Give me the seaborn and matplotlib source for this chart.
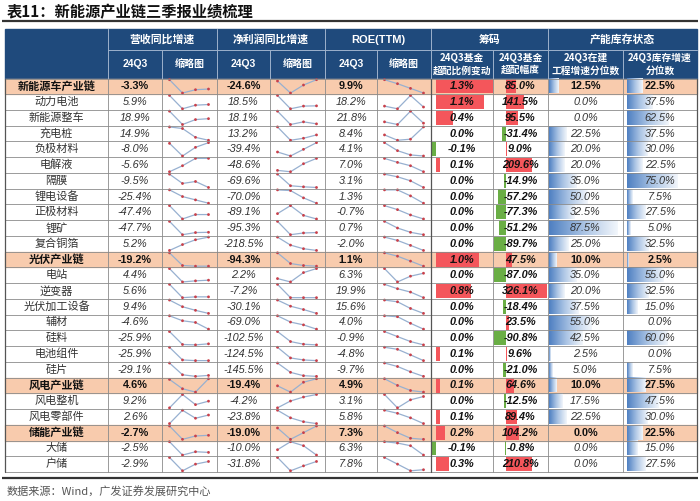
import numpy as np
import pandas as pd
import matplotlib
matplotlib.use('Agg')
import matplotlib.pyplot as plt
from matplotlib.patches import Rectangle
from matplotlib.colors import LinearSegmentedColormap
import seaborn as sns

sns.set_theme(style='white')
plt.rcParams['font.family'] = ['Noto Sans CJK SC', 'DejaVu Sans']

# ---------------- data ----------------
names = ['新能源车产业链', '动力电池', '新能源整车', '充电桩', '负极材料', '电解液', '隔膜', '锂电设备',
         '正极材料', '锂矿', '复合铜箔', '光伏产业链', '电站', '逆变器', '光伏加工设备', '辅材', '硅料',
         '电池组件', '硅片', '风电产业链', '风电整机', '风电零部件', '储能产业链', '大储', '户储']
is_group = [1, 0, 0, 0, 0, 0, 0, 0, 0, 0, 0, 1, 0, 0, 0, 0, 0, 0, 0, 1, 0, 0, 1, 0, 0]
rev = [-3.3, 5.9, 18.9, 14.9, -8.0, -5.6, -9.5, -25.4, -47.4, -47.7, 5.2, -19.2, 4.4, 5.6, 9.4, -4.6,
       -25.9, -25.9, -29.1, 4.6, 9.2, 2.6, -2.7, -2.5, -2.9]
net = [-24.6, 18.5, 18.1, 13.2, -39.4, -48.6, -69.6, -70.0, -89.1, -95.3, -218.5, -94.3, 2.2, -7.2,
       -30.1, -69.0, -102.5, -124.5, -145.5, -19.4, -4.2, -23.8, -19.0, -10.0, -31.8]
roe = [9.9, 18.2, 21.8, 8.4, 4.1, 7.0, 3.1, 1.3, -0.7, 0.7, -2.0, 1.1, 6.3, 19.9, 15.6, 4.0, -0.9,
       -4.8, -9.7, 4.9, 3.1, 5.8, 7.3, 6.3, 7.8]
fund_chg = [1.3, 1.1, 0.4, 0.0, -0.1, 0.1, 0.0, 0.0, 0.0, 0.0, 0.0, 1.0, 0.0, 0.8, 0.0, 0.0, 0.0,
            0.1, 0.0, 0.1, 0.0, 0.1, 0.2, -0.1, 0.3]
fund_ow = [85.0, 141.5, 95.5, -31.4, 9.0, 209.6, -14.9, -57.2, -77.3, -51.2, -89.7, 47.5, -87.0, 326.1,
           -18.4, 23.5, -90.8, 9.6, -21.0, 64.6, -12.5, 89.4, 104.2, -0.8, 210.8]
constr = [12.5, 0.0, 0.0, 22.5, 20.0, 20.0, 35.0, 50.0, 32.5, 87.5, 25.0, 10.0, 35.0, 20.0, 37.5, 55.0,
          42.5, 2.5, 5.0, 10.0, 17.5, 22.5, 0.0, 0.0, 0.0]
inv = [22.5, 37.5, 62.5, 37.5, 30.0, 22.5, 75.0, 7.5, 27.5, 5.0, 32.5, 2.5, 55.0, 32.5, 15.0, 0.0,
       60.0, 0.0, 7.5, 27.5, 47.5, 30.0, 22.5, 15.0, 27.5]

# sparkline shapes (relative level 0-100 of four quarters, read from the thumbnails)
spark_rev = [[100, 0, 25, 30], [100, 0, 27, 32], [100, 0, 37, 44], [100, 88, 22, 0], [95, 0, 65, 100],
             [0, 45, 100, 100], [100, 30, 45, 0], [100, 50, 25, 0], [100, 0, 33, 33], [100, 0, 16, 18],
             [0, 44, 80, 100], [100, 5, 0, 0], [100, 0, 8, 13], [100, 0, 6, 6], [100, 50, 23, 0],
             [100, 63, 50, 0], [100, 3, 0, 8], [100, 5, 0, 0], [100, 12, 0, 7], [95, 25, 0, 100],
             [0, 100, 24, 50], [0, 100, 40, 64], [100, 0, 25, 30], [100, 0, 25, 20], [100, 0, 50, 70]]
spark_net = [[90, 0, 60, 100], [100, 0, 20, 22], [100, 0, 20, 5], [100, 0, 15, 40], [30, 0, 50, 100],
             [10, 0, 60, 100], [100, 13, 5, 0], [100, 95, 40, 0], [40, 100, 27, 0], [100, 0, 13, 16],
             [100, 40, 13, 0], [100, 20, 5, 0], [25, 0, 70, 100], [100, 0, 0, 0], [100, 54, 29, 0],
             [100, 53, 32, 0], [100, 25, 5, 0], [100, 20, 5, 0], [100, 30, 5, 0], [47, 0, 74, 100],
             [0, 51, 81, 100], [100, 43, 14, 0], [85, 0, 50, 100], [40, 100, 70, 0], [100, 0, 37, 70]]
spark_roe = [[100, 70, 35, 0], [20, 0, 100, 13], [20, 0, 100, 10], [40, 0, 8, 100], [100, 40, 8, 0],
             [100, 70, 45, 0], [100, 80, 50, 0], [100, 100, 55, 0], [100, 70, 30, 0], [100, 50, 18, 0],
             [100, 75, 38, 0], [100, 75, 38, 0], [100, 0, 43, 65], [100, 67, 42, 0], [100, 87, 37, 0],
             [100, 93, 44, 0], [100, 62, 25, 0], [100, 85, 43, 0], [100, 74, 34, 0], [100, 50, 12, 0],
             [100, 0, 60, 85], [100, 77, 43, 0], [100, 50, 8, 0], [100, 90, 70, 0], [100, 50, 0, 8]]

title = '表11：新能源产业链三季报业绩梳理'
source = '数据来源：Wind，广发证券发展研究中心'
hdr1 = ['营收同比增速', '净利润同比增速', 'ROE(TTM)', '筹码', '产能库存状态']
hdr2 = ['24Q3', '缩略图', '24Q3', '缩略图', '24Q3', '缩略图', '24Q3基金\n超配比例变动', '24Q3基金\n超配幅度',
        '24Q3在建\n工程增速分位数', '24Q3库存增速\n分位数']

# ---------------- layout ----------------
W, H = 700, 501
fig = plt.figure(figsize=(7, 5.01), dpi=100)
ax = fig.add_axes([0, 0, 1, 1])
ax.axis('off')

cols = [5, 108, 162, 217, 270, 325, 377, 431, 493, 548, 623, 697]
hdr_top, hdr_mid, body_top, body_bot = 29, 50, 78.5, 472
n = len(names)
rh = (body_bot - body_top) / n

HDR_BLUE = '#1F4A7C'
PEACH = '#F8CBAD'
RED = '#F4565B'
GREEN = '#6AAE45'
GRID = '#8A8A8A'
NUMF = ['Liberation Sans', 'DejaVu Sans']

# title
ax.text(7, 12, title, fontsize=11, fontweight='bold', va='center', ha='left', color='#111')
ax.plot([2, 698], [21, 21], color='#333333', lw=1.6, solid_capstyle='butt')

# header
ax.add_patch(Rectangle((cols[0], hdr_top), cols[-1] - cols[0], body_top - hdr_top, color=HDR_BLUE, zorder=1))
hl = '#9DB2CC'
for x in [cols[1], cols[3], cols[5], cols[7], cols[9]]:
    ax.plot([x, x], [hdr_top, body_top], color=hl, lw=0.7, zorder=2)
for x in [cols[2], cols[4], cols[6], cols[8], cols[10]]:
    ax.plot([x, x], [hdr_mid, body_top], color=hl, lw=0.7, zorder=2)
ax.plot([cols[1], cols[-1]], [hdr_mid, hdr_mid], color=hl, lw=0.7, zorder=2)
spans = [(1, 3), (3, 5), (5, 7), (7, 9), (9, 11)]
for (a, b), t in zip(spans, hdr1):
    fam = NUMF if t.startswith('ROE') else None
    kw = dict(family=fam) if fam else {}
    ax.text((cols[a] + cols[b]) / 2, (hdr_top + hdr_mid) / 2, t, color='white', fontsize=8 if fam else 7.8,
            fontweight='bold', ha='center', va='center', zorder=3, **kw)
for k, t in enumerate(hdr2):
    xc = (cols[k + 1] + cols[k + 2]) / 2
    if t == '24Q3':
        ax.text(xc, (hdr_mid + body_top) / 2, t, color='white', fontsize=7.5, fontweight='bold',
                family=NUMF, ha='center', va='center', zorder=3)
    else:
        ax.text(xc, (hdr_mid + body_top) / 2, t, color='white', fontsize=7 if '\n' in t else 7.2,
                fontweight='bold', ha='center', va='center', linespacing=1.25, zorder=3)

# fund bar scales
def axis_scale(vals, left, right):
    neg = max(0.0, -min(vals))
    pos = max(vals)
    k = (right - left) / (neg + pos)
    return left + neg * k, k

chg_axis, chg_k = axis_scale(fund_chg, cols[7] + 0.5, cols[8] - 0.5)
ow_axis, ow_k = axis_scale(fund_ow, cols[8] + 1, cols[9] - 1)
blue_cmap = LinearSegmentedColormap.from_list('bb', ['#4F80C2', '#A9C3E4', '#F2F6FB'])
grad = np.linspace(0, 1, 64).reshape(1, -1)

for i in range(n):
    y0 = body_top + i * rh
    g = bool(is_group[i])
    if g:
        ax.add_patch(Rectangle((cols[0], y0), cols[-1] - cols[0], rh, color=PEACH, zorder=1))
    # fund change bars
    v = fund_chg[i]
    if v != 0:
        w = v * chg_k
        ax.add_patch(Rectangle((chg_axis, y0 + 0.8), w, rh - 1.6, color=RED if v > 0 else GREEN, lw=0, zorder=2))
    v = fund_ow[i]
    if v != 0:
        w = v * ow_k
        ax.add_patch(Rectangle((ow_axis, y0 + 0.8), w, rh - 1.6, color=RED if v > 0 else GREEN, lw=0, zorder=2))
    # gradient bars
    for val, left, kk in [(constr[i], cols[9] + 1, 0.78), (inv[i], cols[10] + 4, 0.67)]:
        if val > 0:
            ax.imshow(grad, cmap=blue_cmap, extent=[left, left + val * kk, y0 + rh - 0.8, y0 + 0.8],
                      aspect='auto', interpolation='bilinear', zorder=2)
    # texts
    yc = y0 + rh / 2
    if g:
        ax.text((cols[0] + cols[1]) / 2, yc, names[i], fontsize=8, fontweight='bold', ha='center',
                va='center', color='#111', zorder=4)
    else:
        ax.text((cols[0] + cols[1]) / 2, yc, names[i], fontsize=8, ha='center', va='center',
                color='#333', zorder=4)
    for val, c in [(rev[i], 1), (net[i], 3), (roe[i], 5), (constr[i], 9), (inv[i], 10)]:
        ax.text((cols[c] + cols[c + 1]) / 2, yc, f'{val:.1f}%', fontsize=7.8, family=NUMF,
                fontweight='bold' if g else 'normal', style='normal' if g else 'italic',
                ha='center', va='center', color='#111' if g else '#333', zorder=4)
    for val, c in [(fund_chg[i], 7), (fund_ow[i], 8)]:
        ax.text((cols[c] + cols[c + 1]) / 2, yc, f'{val:.1f}%', fontsize=7.8, family=NUMF,
                fontweight='bold', style='italic',
                ha='center', va='center', color='#111', zorder=4)

# sparklines
recs = []
for c, spark in [(2, spark_rev), (4, spark_net), (6, spark_roe)]:
    left = cols[c]
    for i, vals in enumerate(spark):
        y0 = body_top + i * rh
        for j, v in enumerate(vals):
            recs.append(dict(uid=f'{c}-{i}', x=left + 7.5 + j * 13.0, y=y0 + rh - 1.2 - v / 100 * (rh - 2.4)))
df = pd.DataFrame(recs)
sns.lineplot(data=df, x='x', y='y', units='uid', estimator=None, sort=False, color='#97B0D0',
             lw=0.9, ax=ax, legend=False, zorder=5)
sns.scatterplot(data=df, x='x', y='y', color='#C9404A', s=4, edgecolor='none', ax=ax, legend=False, zorder=6)

# grid
for i in range(n + 1):
    y = body_top + i * rh
    ax.plot([cols[0], cols[-1]], [y, y], color=GRID, lw=0.6, zorder=7)
for k, x in enumerate(cols):
    ax.plot([x, x], [body_top, body_bot], color='#555555' if k in (0, 7, 11) else GRID,
            lw=0.9 if k in (0, 7, 11) else 0.6, zorder=7)

# footer
ax.plot([2, 698], [478, 478], color='#333333', lw=1.6, solid_capstyle='butt')
ax.text(7, 491, source, fontsize=8, color='#555555', ha='left', va='center')

ax.set_xlim(0, W)
ax.set_ylim(H, 0)
ax.set_xlabel('')
ax.set_ylabel('')
fig.savefig('out.png', dpi=100)
